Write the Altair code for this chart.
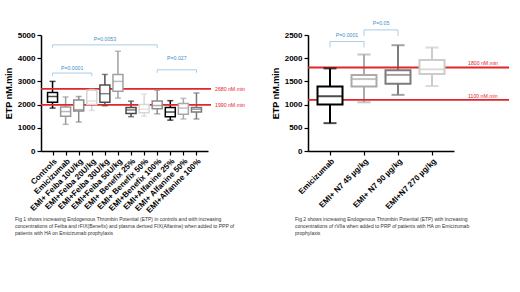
import json
import altair as alt
import pandas as pd

# ---------------- data: Fig 1 ----------------
l_cats = ["Controls", "Emicizumab", "EMI+ Feiba 10U/kg", "EMI+Feiba 20U/kg",
          "EMI+Feiba 30U/kg", "EMI+Feiba 50U/kg", "EMI+ Benefix 25%",
          "EMI+ Benefix 50%", "EMI+Benefix 100%", "EMI+Alfanine 25%",
          "EMI+ Alfanine 50%", "EMI+Alfanine 100%"]
l_min = [1850, 1150, 1250, 1750, 1950, 2280, 1480, 1500, 1600, 1330, 1380, 1380]
l_q1 = [2100, 1500, 1720, 2000, 2100, 2580, 1620, 1650, 1820, 1480, 1580, 1680]
l_med = [2350, 1700, 1780, 2150, 2470, 3000, 1770, 1800, 1960, 1680, 1850, 1800]
l_q3 = [2520, 1900, 2200, 2620, 2840, 3300, 1880, 2000, 2150, 1880, 2050, 1880]
l_max = [3000, 2330, 2350, 2650, 3300, 4300, 2150, 2450, 2620, 2170, 2270, 2500]
l_colors = ["#000000", "#9a9a9a", "#8a8a8a", "#d4d4d4", "#4f4f4f", "#a0a0a0",
            "#474747", "#d8d8d8", "#8c8c8c", "#000000", "#a8a8a8", "#7a7a7a"]
l_ref = [2680, 1990]
l_ref_labels = ["2680 nM.min", "1990 nM.min"]
l_br_a = [0, 0, 8]
l_br_b = [3, 8, 11]
l_br_y = [3360, 4575, 3500]
l_br_lab_y = [3580, 4835, 4000]
l_br_text = ["P=0.0001", "P=0.0053", "P=0.027"]
l_caption = ("Fig 1 shows increasing Endogenous Thrombin Potential (ETP) in controls and with increasing\n"
             "concentrations of Feiba and rFIX(Benefix) and plasma derived FIX(Alfanine) when added to PPP of\n"
             "patients with HA on Emicizumab prophylaxis")

# ---------------- data: Fig 2 ----------------
r_cats = ["Emicizumab", "EMI+ N7 45 µg/kg", "EMI+ N7 90 µg/kg", "EMI+N7 270 µg/kg"]
r_min = [600, 1050, 1210, 1400]
r_q1 = [1000, 1390, 1450, 1660]
r_med = [1180, 1550, 1640, 1760]
r_q3 = [1390, 1640, 1740, 1960]
r_max = [1780, 2080, 2280, 2230]
r_colors = ["#000000", "#ababab", "#7c7c7c", "#cccccc"]
r_ref = [1800, 1100]
r_ref_labels = ["1800 nM.min", "1100 nM.min"]
r_br_a = [0, 1]
r_br_b = [1, 2]
r_br_y = [2360, 2610]
r_br_lab_y = [2510, 2760]
r_br_text = ["P=0.0001", "P=0.05"]
r_caption = ("Fig 2 shows increasing Endogenous Thrombin Potential (ETP) with increasing\n"
             "concentrations of rVIIa when added to PRP of patients with HA on Emicizumab\n"
             "prophylaxis")

FONT = "Liberation Sans"
RED = "#e0262a"
BLUE_LINE = "#a9cde6"
BLUE_TEXT = "#3f8fc5"


def panel(cats, mins, q1, med, q3, maxs, colors, ymax, ystep, width, height,
          boxw, capw, sw, refs, ref_labels, ref_ext, ref_label_right,
          br_a, br_b, br_y, br_lab_y, br_text, caption, cap_x, cap_y, tick_depth):
    n = len(cats)
    df = pd.DataFrame({"idx": list(range(n)), "cat": cats, "mn": mins, "q1": q1,
                       "med": med, "q3": q3, "mx": maxs})
    x_scale = alt.Scale(domain=[-0.5, n - 0.5], nice=False, zero=False)
    y_scale = alt.Scale(domain=[0, ymax], nice=False)
    col_scale = alt.Scale(domain=cats, range=colors)
    label_expr = json.dumps(cats) + "[datum.value]"
    x_axis = alt.Axis(values=list(range(n)), labelExpr=label_expr, labelAngle=-45,
                      labelFont=FONT, labelFontWeight="bold", labelFontSize=8,
                      labelColor="black", labelOverlap=False, labelFlush=False,
                      labelBound=False, grid=False, title=None, domainColor="black",
                      domainWidth=1.5, tickColor="black", tickWidth=1.2, tickSize=4,
                      labelPadding=2)
    y_axis = alt.Axis(values=list(range(0, ymax + 1, ystep)), format="d", labelFont=FONT,
                      labelFontWeight="bold", labelFontSize=8, labelColor="black",
                      grid=False, title="ETP nM.min", titleFont=FONT,
                      titleFontWeight="bold", titleFontSize=9, titleColor="black",
                      domainColor="black", domainWidth=1.5, tickColor="black",
                      tickWidth=1.2, tickSize=4, labelPadding=2, titlePadding=4)

    def XQ(f):
        return alt.X(f, scale=x_scale, axis=x_axis)

    def YQ(f):
        return alt.Y(f, scale=y_scale, axis=y_axis)

    base = alt.Chart(df)
    whisk = base.mark_rule(strokeWidth=sw).encode(
        x=XQ("idx:Q"), y=YQ("mn:Q"), y2="mx:Q",
        color=alt.Color("cat:N", scale=col_scale, legend=None))
    box = base.mark_bar(size=boxw, fill="white", strokeWidth=sw).encode(
        x=XQ("idx:Q"), y=YQ("q1:Q"), y2="q3:Q",
        stroke=alt.Stroke("cat:N", scale=col_scale, legend=None))
    medt = base.mark_tick(orient="horizontal", size=boxw, thickness=sw).encode(
        x=XQ("idx:Q"), y=YQ("med:Q"),
        color=alt.Color("cat:N", scale=col_scale, legend=None))
    capmin = base.mark_tick(orient="horizontal", size=capw, thickness=sw).encode(
        x=XQ("idx:Q"), y=YQ("mn:Q"),
        color=alt.Color("cat:N", scale=col_scale, legend=None))
    capmax = base.mark_tick(orient="horizontal", size=capw, thickness=sw).encode(
        x=XQ("idx:Q"), y=YQ("mx:Q"),
        color=alt.Color("cat:N", scale=col_scale, legend=None))

    rdf = pd.DataFrame({"v": refs, "lab": ref_labels})
    rlines = alt.Chart(rdf).mark_rule(color=RED, strokeWidth=1.8).encode(
        x=alt.value(0), x2=alt.value(width + ref_ext), y=YQ("v:Q"))
    if ref_label_right:
        rtext = alt.Chart(rdf).mark_text(color=RED, fontSize=5.2, font=FONT, align="left",
                                         baseline="middle").encode(
            x=alt.value(width + 7), y=YQ("v:Q"), text="lab:N")
    else:
        rtext = alt.Chart(rdf).mark_text(color=RED, fontSize=5.2, font=FONT, align="left",
                                         baseline="bottom", dy=-1).encode(
            x=alt.value(width + 14), y=YQ("v:Q"), text="lab:N")

    bdf = pd.DataFrame({"a": br_a, "b": br_b, "y": br_y, "ly": br_lab_y, "t": br_text})
    bdf["mid"] = (bdf["a"] + bdf["b"]) / 2
    bdf["ylow"] = bdf["y"] - tick_depth
    bch = alt.Chart(bdf)
    bh = bch.mark_rule(color=BLUE_LINE, strokeWidth=1).encode(
        x=XQ("a:Q"), x2="b:Q", y=YQ("y:Q"))
    bl = bch.mark_rule(color=BLUE_LINE, strokeWidth=1).encode(
        x=XQ("a:Q"), y=YQ("y:Q"), y2="ylow:Q")
    br = bch.mark_rule(color=BLUE_LINE, strokeWidth=1).encode(
        x=XQ("b:Q"), y=YQ("y:Q"), y2="ylow:Q")
    bt = bch.mark_text(color=BLUE_TEXT, fontSize=5.2, font=FONT, baseline="middle").encode(
        x=XQ("mid:Q"), y=YQ("ly:Q"), text="t:N")

    cdf = pd.DataFrame({"c": [caption]})
    cap = alt.Chart(cdf).mark_text(fontSize=5, font=FONT, align="left", baseline="top",
                                   lineBreak="\n", lineHeight=7, color="#333333").encode(
        x=alt.value(cap_x), y=alt.value(cap_y), text="c:N")

    return alt.layer(whisk, rlines, box, medt, capmin, capmax, bh, bl, br, bt,
                     rtext, cap).properties(width=width, height=height)


left = panel(l_cats, l_min, l_q1, l_med, l_q3, l_max, l_colors, 5000, 1000, 167, 116,
             10, 6, 1.5, l_ref, l_ref_labels, 3, True,
             l_br_a, l_br_b, l_br_y, l_br_lab_y, l_br_text, l_caption, -26, 182, 130)
right = panel(r_cats, r_min, r_q1, r_med, r_q3, r_max, r_colors, 2500, 500, 146, 116,
              25, 13, 2, r_ref, r_ref_labels, 55, False,
              r_br_a, r_br_b, r_br_y, r_br_lab_y, r_br_text, r_caption, -13, 182, 130)

chart = alt.hconcat(left, right, spacing=24).resolve_scale(
    color="independent", stroke="independent"
).properties(
    padding={"left": 3, "top": 20, "right": 0, "bottom": 0},
    background="white",
).configure_view(stroke="transparent")

chart.save("out.html", embed_options={"renderer": "svg", "actions": False})
